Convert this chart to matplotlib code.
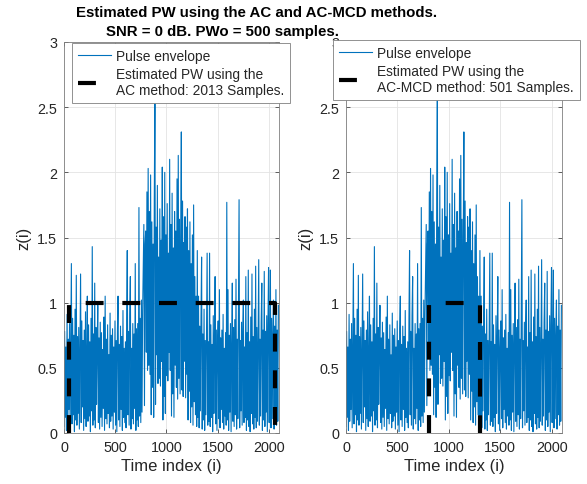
import numpy as np
import matplotlib.pyplot as plt
from matplotlib.ticker import FormatStrFormatter

plt.rcParams["font.family"] = ["Liberation Sans", "DejaVu Sans"]

# pulse envelope, one value every `step` samples
step = 6
z = [
    # baseline noise, samples 0-792
    0.05, 0.78, 0.12, 0.66, 0.02, 0.91, 0.09, 0.72, 0.18, 0.84, 0.04, 0.69, 1.30, 0.07, 0.88, 0.14, 0.75, 0.01, 0.95, 0.10,
    1.21, 0.06, 0.74, 0.15, 0.81, 0.03, 0.68, 1.22, 0.08, 0.86, 0.20, 0.71, 0.02, 0.79, 0.11, 0.93, 0.05, 0.62, 1.05, 0.09,
    0.83, 0.13, 0.70, 0.01, 0.88, 0.17, 1.43, 0.06, 0.76, 0.10, 1.15, 0.04, 0.81, 0.22, 0.67, 0.98, 0.08, 0.73, 0.03, 0.85,
    0.12, 0.77, 0.05, 0.64, 0.19, 0.89, 0.02, 1.05, 0.11, 0.72, 0.07, 0.83, 0.15, 0.60, 0.04, 0.92, 0.09, 0.75, 0.13, 0.80,
    0.03, 0.66, 0.16, 0.86, 0.06, 0.71, 0.01, 0.79, 1.05, 0.10, 0.68, 0.05, 0.82, 0.18, 0.74, 0.02, 0.94, 0.12, 0.65, 0.08,
    0.70, 0.04, 0.87, 1.40, 0.14, 0.78, 0.06, 0.90, 1.20, 0.03, 0.65, 0.11, 0.84, 0.07, 0.76, 0.19, 1.30, 0.02, 0.80, 0.10,
    0.84, 0.05, 1.73, 0.13, 0.88, 0.08, 1.02, 0.16, 0.93, 1.25, 1.60, 0.21, 1.45,
    # pulse, samples 798-1302
    1.55, 0.62, 1.85, 0.48, 2.03, 0.52, 1.70, 0.45, 1.98, 0.14, 1.62, 0.35, 1.45, 0.12, 1.80, 2.60, 0.22, 1.58, 0.60, 1.90,
    0.38, 1.35, 0.42, 1.72, 0.36, 1.48, 0.55, 2.04, 0.10, 1.66, 0.28, 2.00, 0.15, 1.52, 0.44, 1.76, 0.40, 1.38, 0.62, 2.10,
    0.48, 1.60, 0.13, 1.84, 0.30, 1.42, 0.12, 1.70, 0.52, 1.55, 0.35, 1.95, 0.26, 2.13, 0.42, 1.64, 0.30, 1.50, 2.31, 0.33,
    1.78, 0.28, 1.46, 0.55, 1.66, 0.27, 1.58, 0.45, 1.72, 0.10, 1.40, 0.32, 1.62, 0.08, 1.30, 0.20, 1.52, 0.06, 1.75, 0.24,
    1.20, 0.14, 1.05, 0.05, 1.40,
    # baseline noise, samples 1308-2094
    0.12, 1.05, 0.04, 0.82, 0.17, 0.88, 1.35, 0.03, 0.76, 0.10, 0.95, 0.02, 0.71, 0.14, 0.80, 1.38, 0.06, 0.70, 0.09, 1.38,
    0.05, 0.83, 0.12, 0.68, 0.01, 0.90, 0.15, 0.74, 1.20, 0.07, 0.79, 0.02, 0.66, 0.86, 0.11, 1.10, 0.04, 0.73, 0.18, 0.79,
    0.08, 0.91, 0.03, 0.65, 0.13, 0.77, 0.06, 1.77, 0.10, 1.10, 0.02, 0.75, 0.16, 0.84, 0.01, 0.69, 1.15, 0.09, 0.81, 0.05,
    0.87, 0.14, 1.18, 0.03, 0.72, 0.11, 0.93, 1.79, 0.04, 0.71, 0.17, 0.85, 0.06, 0.78, 1.02, 0.08, 0.66, 0.12, 1.20, 0.02,
    0.77, 0.10, 1.25, 0.05, 0.70, 0.01, 0.89, 0.15, 1.22, 0.07, 0.74, 0.03, 0.95, 0.12, 1.28, 0.04, 0.81, 0.09, 0.68, 1.33,
    0.06, 0.72, 0.13, 0.85, 1.15, 0.02, 0.79, 0.10, 1.24, 0.05, 0.78, 0.16, 0.90, 0.01, 0.83, 1.27, 0.08, 0.73, 1.25, 0.04,
    0.88, 0.11, 0.76, 1.02, 0.03, 0.82, 0.14, 1.10, 0.06, 0.79, 0.09, 0.98,
]

# estimated pulse windows
ac_start, ac_width = 50, 2013
mcd_start, mcd_width = 805, 501
pw_height = 1

methods = ["AC", "AC-MCD"]
starts = [ac_start, mcd_start]
widths = [ac_width, mcd_width]

xticks = [0, 500, 1000, 1500, 2000]
yticks = [0, 0.5, 1, 1.5, 2, 2.5, 3]

blue = "#0072BD"
txt = "#262626"

W, H = 587, 485
fig = plt.figure(figsize=(W / 100, H / 100), dpi=100)

ax_boxes = [(64, 51, 215, 391), (346, 51, 216, 391)]
leg_corners = [(72, 44), (333, 41)]


def make_panel(ax, start, width, method, corner):
    x = np.arange(len(z)) * step
    ax.plot(x, z, color=blue, lw=0.8, label="Pulse envelope")

    px = [start, start, start + width, start + width]
    py = [0, pw_height, pw_height, 0]
    ax.plot(px, py, color="black", lw=3, ls=(0, (4.3, 4.5)), dash_capstyle="butt",
            label="Estimated PW using the\n{} method: {} Samples.".format(method, width))

    ax.set_xlim(0, 2100)
    ax.set_ylim(0, 3)
    ax.set_xticks(xticks)
    ax.set_yticks(yticks)
    ax.yaxis.set_major_formatter(FormatStrFormatter("%g"))
    ax.grid(True, color="#e3e3e3", lw=0.6)
    ax.set_axisbelow(True)
    ax.tick_params(direction="in", length=3, width=0.5, top=True, right=True,
                   labelsize=10.4, colors=txt, labelcolor=txt, pad=5)
    for s in ax.spines.values():
        s.set_color("#808080")
        s.set_linewidth(0.6)
    ax.set_xlabel("Time index (i)", fontsize=12, color=txt, labelpad=3)
    ax.set_ylabel("z(i)", fontsize=12, color=txt, labelpad=4)

    leg = ax.legend(loc="upper left", bbox_to_anchor=(corner[0] / W, 1 - corner[1] / H),
                    bbox_transform=fig.transFigure, borderaxespad=0, fontsize=9.9,
                    fancybox=False, framealpha=1, edgecolor="#808080",
                    handlelength=2.4, handletextpad=0.4, labelspacing=0.32,
                    borderpad=0.42)
    leg.get_frame().set_linewidth(0.6)
    for t in leg.get_texts():
        t.set_color(txt)


for box, start, width, method, corner in zip(ax_boxes, starts, widths, methods, leg_corners):
    ax = fig.add_axes([box[0] / W, box[1] / H, box[2] / W, box[3] / H])
    make_panel(ax, start, width, method, corner)

fig.text(257 / W, 1 - 13 / H, "Estimated PW using the AC and AC-MCD methods.",
         ha="center", va="center", fontsize=10.8, fontweight="bold", color="black")
fig.text(223 / W, 1 - 32 / H, "SNR = 0 dB. PWo = 500 samples.",
         ha="center", va="center", fontsize=10.8, fontweight="bold", color="black")

fig.savefig("out.png", dpi=100)
